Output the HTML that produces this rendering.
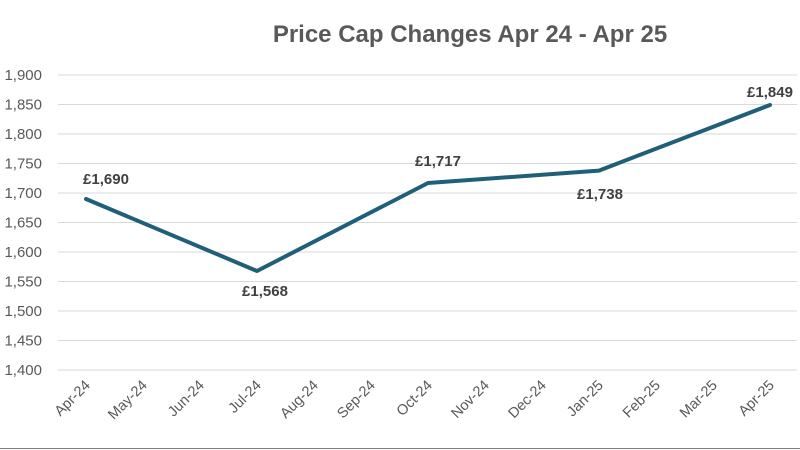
<!DOCTYPE html>
<html><head><style>body{margin:0;background:#fff}svg{display:block}</style></head><body>
<svg width="800" height="450" xmlns="http://www.w3.org/2000/svg" font-family="Liberation Sans, sans-serif">
<rect width="800" height="450" fill="#fff"/>
<text x="470" y="42" font-size="24" font-weight="bold" fill="#595959" text-anchor="middle">Price Cap Changes Apr 24 - Apr 25</text>
<g stroke="#d9d9d9" stroke-width="1">
<line x1="58" x2="797" y1="75" y2="75"/><line x1="58" x2="797" y1="104.5" y2="104.5"/><line x1="58" x2="797" y1="134" y2="134"/><line x1="58" x2="797" y1="163.5" y2="163.5"/><line x1="58" x2="797" y1="193" y2="193"/><line x1="58" x2="797" y1="222.5" y2="222.5"/><line x1="58" x2="797" y1="252" y2="252"/><line x1="58" x2="797" y1="281.5" y2="281.5"/><line x1="58" x2="797" y1="311" y2="311"/><line x1="58" x2="797" y1="340.5" y2="340.5"/><line x1="58" x2="797" y1="370" y2="370"/>
</g>
<g font-size="15" fill="#595959" text-anchor="end">
<text x="42" y="80">1,900</text><text x="42" y="109.5">1,850</text><text x="42" y="139">1,800</text><text x="42" y="168.5">1,750</text><text x="42" y="198">1,700</text><text x="42" y="227.5">1,650</text><text x="42" y="257">1,600</text><text x="42" y="286.5">1,550</text><text x="42" y="316">1,500</text><text x="42" y="345.5">1,450</text><text x="42" y="375">1,400</text>
</g>
<g font-size="14.5" fill="#595959" text-anchor="end">
<text transform="translate(91,386) rotate(-45)">Apr-24</text>
<text transform="translate(148,386) rotate(-45)">May-24</text>
<text transform="translate(205,386) rotate(-45)">Jun-24</text>
<text transform="translate(262,386) rotate(-45)">Jul-24</text>
<text transform="translate(319,386) rotate(-45)">Aug-24</text>
<text transform="translate(376,386) rotate(-45)">Sep-24</text>
<text transform="translate(433,386) rotate(-45)">Oct-24</text>
<text transform="translate(490,386) rotate(-45)">Nov-24</text>
<text transform="translate(547,386) rotate(-45)">Dec-24</text>
<text transform="translate(604,386) rotate(-45)">Jan-25</text>
<text transform="translate(661,386) rotate(-45)">Feb-25</text>
<text transform="translate(718,386) rotate(-45)">Mar-25</text>
<text transform="translate(775,386) rotate(-45)">Apr-25</text>
</g>
<polyline points="86,199 257,271 428,183 599,170.6 770,105" fill="none" stroke="#1f5f7a" stroke-width="4" stroke-linejoin="round" stroke-linecap="round"/>
<g font-size="15" font-weight="bold" fill="#404040" text-anchor="middle">
<text x="106" y="184">£1,690</text>
<text x="265" y="296">£1,568</text>
<text x="438" y="166">£1,717</text>
<text x="600" y="199">£1,738</text>
<text x="770" y="97">£1,849</text>
</g>
<line x1="0" x2="800" y1="448.5" y2="448.5" stroke="#7f7f7f" stroke-width="1"/>
</svg>
</body></html>
